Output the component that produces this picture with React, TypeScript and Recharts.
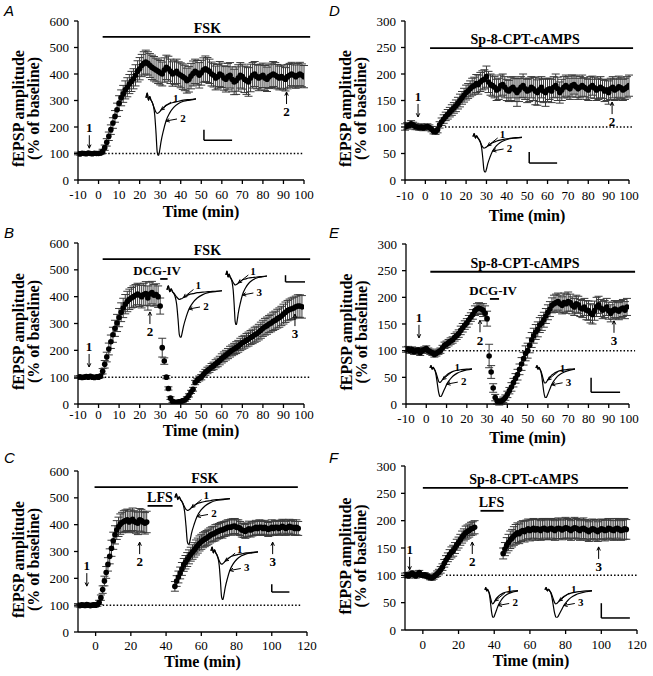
import React from 'react';
import {
  ComposedChart,
  Scatter,
  ErrorBar,
  XAxis,
  YAxis,
  ReferenceLine,
  ReferenceDot,
  LineChart,
  Line,
} from 'recharts';

const SERIF = '"Liberation Serif", "Times New Roman", serif';
const SANS = '"Liberation Sans", Arial, sans-serif';

// fEPSP amplitude (% of baseline), one point per minute, and its s.e.m.
// A: FSK
const A_START = -10;
const A_AMP = [
  100, 98, 101, 100, 99, 102, 100, 99, 101, 100, 100,
  102, 108, 122, 142, 165, 190, 215, 240, 265, 290,
  310, 325, 340, 350, 362, 372, 382, 395, 410, 420,
  432, 440, 445, 440, 432, 425, 420, 415, 410, 405,
  400, 415, 425, 420, 410, 400, 405, 410, 400, 395,
  390, 385, 375, 380, 392, 402, 410, 405, 395, 405,
  415, 420, 415, 410, 400, 395, 385, 390, 400, 395,
  385, 380, 390, 395, 380, 370, 375, 385, 395, 390,
  380, 375, 370, 385, 395, 400, 390, 385, 390, 395,
  385, 380, 390, 395, 400, 395, 390, 385, 390, 385,
  380, 390, 395, 400, 395, 390, 395, 400, 395, 390,
];
const A_SEM = [
  5, 4, 5, 4, 4, 5, 4, 5, 4, 5, 5,
  6, 8, 10, 14, 16, 18, 20, 22, 25, 28,
  30, 32, 34, 36, 36, 38, 38, 40, 40, 42,
  42, 44, 45, 44, 45, 46, 46, 45, 46, 46,
  45, 46, 46, 47, 46, 46, 45, 46, 46, 47,
  48, 48, 47, 48, 48, 47, 46, 46, 48, 47,
  46, 48, 47, 46, 45, 44, 45, 46, 47, 46,
  46, 48, 50, 48, 47, 48, 52, 50, 48, 47,
  50, 52, 54, 52, 48, 47, 46, 48, 47, 46,
  47, 46, 45, 46, 47, 48, 46, 45, 44, 45,
  44, 46, 45, 44, 43, 44, 45, 44, 43, 42,
];

// B: FSK + DCG-IV
const B_START = -10;
const B_AMP = [
  100, 101, 99, 100, 102, 100, 103, 100, 99, 101, 100,
  104, 122, 148, 175, 205, 232, 258, 282, 302, 322,
  342, 358, 372, 382, 390, 396, 400, 405, 410, 405,
  400, 408, 412, 395, 410, 415, 405, 408, 400, 365,
  210, 160, 100, 58, 22, 10, 6, 6, 8, 9,
  12, 15, 22, 32, 45, 55, 80, 88, 95, 100,
  110, 118, 125, 130, 138, 142, 150, 155, 162, 170,
  176, 182, 188, 195, 200, 205, 210, 215, 222, 228,
  232, 238, 242, 248, 252, 258, 262, 268, 275, 282,
  288, 292, 298, 302, 308, 312, 318, 322, 328, 335,
  342, 348, 352, 355, 358, 362, 365, 365, 362,
];
const B_SEM = [
  5, 5, 4, 5, 5, 4, 5, 5, 4, 5, 5,
  6, 10, 14, 18, 22, 25, 28, 30, 32, 34,
  35, 36, 36, 38, 38, 38, 40, 40, 40, 42,
  42, 42, 44, 45, 44, 42, 40, 40, 40, 30,
  35, 12, 6, 6, 5, 4, 4, 4, 4, 4,
  4, 5, 5, 6, 6, 7, 8, 8, 9, 10,
  10, 11, 12, 12, 13, 14, 15, 16, 16, 17,
  18, 18, 19, 20, 20, 21, 22, 22, 23, 24,
  24, 25, 26, 26, 27, 28, 28, 29, 30, 30,
  31, 32, 32, 33, 34, 34, 35, 36, 36, 37,
  38, 38, 39, 40, 40, 40, 42, 42, 42,
];

// C: FSK + LFS (two runs, gap during LFS)
const C1_START = -10;
const C1_AMP = [
  100, 98, 101, 100, 99, 102, 100, 98, 100, 101,
  100, 102, 110, 128, 158, 190, 222, 252, 282, 312,
  340, 362, 380, 392, 402, 408, 412, 415, 418, 410,
  415, 420, 412, 408, 405, 418, 415, 410, 405, 410,
];
const C1_SEM = [
  6, 5, 5, 6, 5, 5, 6, 5, 5, 5,
  5, 6, 8, 10, 14, 18, 22, 25, 28, 30,
  32, 34, 35, 36, 38, 38, 40, 40, 40, 40,
  40, 42, 40, 40, 42, 42, 42, 40, 40, 40,
];
const C2_START = 45;
const C2_AMP = [
  170, 190, 205, 220, 235, 250, 260, 270, 280, 290,
  298, 306, 315, 322, 330, 336, 342, 346, 350, 355,
  360, 364, 366, 370, 374, 376, 380, 380, 384, 386,
  390, 390, 391, 394, 395, 390, 390, 386, 380, 378,
  375, 380, 385, 380, 384, 386, 390, 386, 390, 390,
  386, 390, 386, 382, 385, 390, 386, 390, 390, 386,
  390, 394, 390, 386, 390, 394, 390, 390, 386, 390,
  386,
];
const C2_SEM = [
  18, 20, 22, 22, 24, 24, 25, 26, 26, 26,
  27, 27, 28, 28, 28, 28, 28, 28, 28, 28,
  28, 28, 28, 30, 28, 28, 28, 30, 28, 28,
  28, 28, 30, 28, 28, 28, 28, 26, 26, 26,
  26, 26, 28, 26, 26, 26, 26, 26, 28, 26,
  26, 26, 26, 26, 26, 28, 26, 26, 26, 26,
  26, 26, 28, 26, 26, 26, 26, 28, 26, 28,
  26,
];

// D: Sp-8-CPT-cAMPS
const D_START = -10;
const D_AMP = [
  100, 102, 103, 106, 104, 101, 100, 99, 100, 98, 100,
  101, 99, 96, 92, 91, 95, 104, 110, 115, 120,
  124, 128, 132, 136, 140, 145, 150, 155, 160, 165,
  168, 172, 176, 178, 182, 180, 185, 188, 190, 195,
  185, 180, 178, 175, 170, 172, 178, 180, 175, 170,
  168, 172, 175, 170, 165, 170, 175, 178, 172, 168,
  170, 175, 172, 168, 165, 170, 175, 168, 165, 170,
  172, 168, 175, 178, 172, 165, 170, 175, 178, 175,
  172, 178, 180, 176, 172, 175, 178, 175, 172, 170,
  175, 178, 174, 170, 172, 175, 172, 168, 170, 165,
  172, 175, 170, 172, 176, 174, 170, 172, 175, 178,
];
const D_SEM = [
  6, 6, 5, 6, 5, 6, 5, 5, 6, 5, 5,
  5, 5, 5, 5, 5, 6, 6, 7, 8, 8,
  9, 9, 10, 10, 11, 11, 12, 12, 13, 14,
  14, 15, 16, 16, 17, 18, 18, 18, 18, 20,
  20, 20, 20, 20, 20, 20, 20, 20, 20, 20,
  20, 22, 20, 22, 26, 22, 20, 22, 20, 22,
  22, 20, 22, 26, 24, 22, 20, 22, 26, 22,
  20, 22, 20, 22, 22, 20, 20, 20, 20, 20,
  20, 20, 18, 20, 20, 20, 20, 18, 20, 20,
  20, 18, 20, 20, 20, 20, 18, 20, 20, 22,
  20, 20, 20, 20, 20, 20, 20, 20, 20, 20,
];

// E: Sp-8-CPT-cAMPS + DCG-IV
const E_START = -10;
const E_AMP = [
  102, 103, 100, 102, 98, 100, 101, 96, 100, 102, 104,
  100, 98, 96, 93, 95, 98, 100, 105, 110, 112,
  115, 118, 120, 125, 128, 132, 138, 143, 148, 152,
  158, 163, 168, 175, 178, 180, 178, 176, 170, 160,
  90, 60, 30, 12, 5, 3, 5, 8, 12, 18,
  25, 32, 40, 48, 55, 65, 75, 85, 95, 100,
  110, 120, 128, 135, 140, 148, 152, 158, 165, 172,
  178, 185, 188, 190, 192, 188, 185, 190, 188, 192,
  190, 185, 182, 188, 186, 180, 178, 182, 176, 175,
  170, 168, 175, 182, 186, 180, 176, 178, 182, 175,
  170, 175, 178, 176, 174, 178, 180, 176, 182,
];
const E_SEM = [
  5, 5, 5, 5, 5, 5, 5, 5, 5, 5, 5,
  5, 5, 5, 5, 5, 5, 5, 5, 6, 6,
  6, 6, 6, 7, 7, 7, 8, 8, 8, 8,
  8, 8, 9, 9, 10, 10, 10, 12, 14, 14,
  22, 12, 8, 6, 5, 5, 5, 5, 5, 6,
  6, 8, 8, 9, 10, 10, 12, 12, 14, 14,
  14, 14, 14, 14, 14, 14, 14, 14, 14, 14,
  14, 14, 16, 16, 16, 16, 16, 18, 18, 18,
  16, 16, 16, 16, 16, 16, 16, 16, 18, 18,
  18, 18, 18, 18, 16, 16, 16, 16, 16, 16,
  16, 16, 16, 16, 16, 16, 16, 16, 16,
];

// F: Sp-8-CPT-cAMPS + LFS
const F1_START = -10;
const F1_AMP = [
  100, 101, 99, 102, 104, 101, 99, 102, 105, 101,
  100, 101, 99, 98, 96, 95, 97, 100, 103, 106,
  110, 115, 122, 128, 133, 138, 142, 145, 150, 156,
  160, 165, 170, 174, 178, 180, 182, 185, 186, 188,
];
const F1_SEM = [
  4, 4, 4, 4, 4, 4, 4, 4, 4, 4,
  4, 4, 4, 4, 4, 4, 4, 4, 5, 5,
  6, 6, 7, 8, 8, 9, 10, 10, 10, 10,
  10, 10, 11, 11, 12, 12, 12, 12, 12, 12,
];
const F2_START = 45;
const F2_AMP = [
  140, 148, 155, 160, 165, 168, 172, 175, 178, 176,
  180, 182, 180, 183, 185, 182, 184, 186, 183, 185,
  184, 182, 185, 186, 184, 183, 185, 186, 184, 182,
  185, 186, 185, 183, 185, 187, 186, 184, 182, 185,
  187, 186, 184, 182, 185, 186, 184, 182, 180, 183,
  185, 184, 182, 180, 183, 185, 184, 182, 183, 186,
  185, 183, 182, 185, 186, 184, 182, 183, 185, 184,
];
const F2_SEM = [
  10, 12, 14, 15, 16, 16, 17, 18, 18, 18,
  18, 18, 19, 18, 18, 19, 18, 18, 19, 18,
  18, 18, 19, 18, 18, 18, 19, 18, 18, 18,
  18, 19, 18, 18, 18, 19, 18, 18, 18, 18,
  19, 18, 18, 18, 18, 19, 18, 18, 18, 18,
  18, 18, 19, 18, 18, 18, 18, 19, 18, 18,
  18, 18, 18, 19, 18, 18, 18, 18, 19, 18,
];

// example fEPSP traces shown as insets (arbitrary time, % of largest response)
const TRACE_T = [0, 1, 2, 3, 4, 5, 6, 7, 8, 9, 10, 11, 12, 14, 16, 19, 22, 26, 30, 35, 40];
const TRACE_DEEP = [0, 8, -4, 2, -4, -8, -15, -30, -60, -94, -100, -90, -76, -56, -40, -26, -17, -10, -6, -4, -2];
const TRACE_BROAD = [0, 8, -4, 2, -4, -12, -30, -55, -80, -95, -100, -96, -88, -72, -56, -40, -28, -18, -12, -7, -4];
const TRACE_20 = [0, 8, -4, 2, -4, -7, -11, -15, -18, -20, -19, -18, -16, -13, -10, -8, -6, -5, -4, -3, -2];
const TRACE_27 = [0, 8, -4, 2, -4, -8, -14, -20, -25, -27, -26, -24, -21, -17, -13, -10, -8, -6, -4, -3, -2];
const TRACE_32 = [0, 8, -4, 2, -4, -9, -16, -24, -29, -32, -31, -29, -26, -21, -17, -13, -10, -7, -5, -3, -2];
const TRACE_50 = [0, 8, -4, 2, -4, -10, -20, -32, -44, -50, -49, -45, -40, -32, -24, -17, -12, -8, -6, -4, -3];

const rows = (start: number, amp: number[], sem: number[]) =>
  amp.map((v, i) => ({ t: start + i, v, e: sem[i] ?? 0 }));

type Mark = { t: number; v: number; dx: number; dy: number; text: string };
type DrugBar = { from: number; to: number; v: number; text: string; at: number; size: number };
type Seg = { start: number; amp: number[]; sem: number[] };

const arrow = (dx: number, dy: number, text: string, size: number) => (p: any) => {
  const cx = p.cx;
  const cy = p.cy;
  const len = Math.hypot(dx, dy);
  const ux = dx / len;
  const uy = dy / len;
  const h = 4;
  const c = Math.cos(0.45);
  const s = Math.sin(0.45);
  const h1x = cx + h * (ux * c - uy * s);
  const h1y = cy + h * (ux * s + uy * c);
  const h2x = cx + h * (ux * c + uy * s);
  const h2y = cy + h * (-ux * s + uy * c);
  const lx = cx + dx + ux * (size * 0.55);
  const ly = cy + dy + uy * (size * 0.6);
  return (
    <g>
      <line x1={cx + dx} y1={cy + dy} x2={cx} y2={cy} stroke="#000" strokeWidth={1} />
      <polyline points={`${h1x},${h1y} ${cx},${cy} ${h2x},${h2y}`} fill="none" stroke="#000" strokeWidth={1} />
      <text x={lx} y={ly} textAnchor="middle" dominantBaseline="central" fontFamily={SERIF} fontWeight="bold" fontSize={size} fill="#000">
        {text}
      </text>
    </g>
  );
};

const barLabel = (text: string, size: number) => (p: any) => (
  <text x={p.cx} y={p.cy - 4} textAnchor="middle" fontFamily={SERIF} fontWeight="bold" fontSize={size} fill="#000">
    {text}
  </text>
);

const dot = (p: any) => <circle cx={p.cx} cy={p.cy} r={2.8} fill="#000" />;

const xTick = (p: any) => (
  <text x={p.x} y={p.y} dy="0.71em" textAnchor="middle" fontFamily={SERIF} fontSize={13} fill="#000">
    {p.payload.value}
  </text>
);

const yTick = (p: any) => (
  <text x={p.x} y={p.y} dy="0.35em" textAnchor="end" fontFamily={SERIF} fontSize={13} fill="#000">
    {p.payload.value}
  </text>
);

const yTitle = (p: any) => {
  const vb = p.viewBox;
  const right = vb.x + vb.width;
  const cy = vb.y + vb.height / 2 + 8;
  const style = { fontFamily: SERIF, fontWeight: 'bold' as const, fontSize: 16, fill: '#000' };
  return (
    <g>
      <text x={right - 60} y={cy} transform={`rotate(-90 ${right - 60} ${cy})`} textAnchor="middle" dominantBaseline="central" {...style}>
        fEPSP amplitude
      </text>
      <text x={right - 45} y={cy} transform={`rotate(-90 ${right - 45} ${cy})`} textAnchor="middle" dominantBaseline="central" {...style}>
        (% of baseline)
      </text>
    </g>
  );
};

const xTitle = (dy: number) => (p: any) => {
  const vb = p.viewBox;
  return (
    <text x={vb.x + vb.width / 2 + 10} y={vb.y + dy} textAnchor="middle" dominantBaseline="central" fontFamily={SERIF} fontWeight="bold" fontSize={16} fill="#000">
      Time (min)
    </text>
  );
};

type PanelProps = {
  letter: string;
  left: number;
  top: number;
  width: number;
  height: number;
  margin: { top: number; right: number; bottom: number; left: number };
  xDomain: [number, number];
  xTicks: number[];
  yDomain: [number, number];
  yTicks: number[];
  segs: Seg[];
  base: [number, number];
  bars: DrugBar[];
  marks: Mark[];
  scale: [number, number, number, number];
  titleDy: number;
  tickGap: number;
};

function Panel(props: PanelProps) {
  const { scale } = props;
  return (
    <div style={{ position: 'absolute', left: props.left, top: props.top }}>
      <ComposedChart width={props.width} height={props.height} margin={props.margin}>
        <XAxis
          type="number"
          dataKey="t"
          domain={props.xDomain}
          ticks={props.xTicks}
          interval={0}
          allowDataOverflow
          height={20}
          stroke="#000"
          strokeWidth={1.3}
          tickSize={4}
          tickMargin={props.tickGap}
          tick={xTick}
          label={xTitle(props.titleDy)}
        />
        <YAxis
          type="number"
          dataKey="v"
          domain={props.yDomain}
          ticks={props.yTicks}
          interval={0}
          allowDataOverflow
          width={40}
          stroke="#000"
          strokeWidth={1.3}
          tickSize={4}
          tickMargin={5}
          tick={yTick}
          label={yTitle}
        />
        <ReferenceLine
          segment={[{ x: props.base[0], y: 100 }, { x: props.base[1], y: 100 }]}
          stroke="#000"
          strokeWidth={1.5}
          strokeDasharray="1.5 2"
          ifOverflow="visible"
        />
        {props.bars.map((b, i) => (
          <ReferenceLine
            key={`bar-${i}`}
            segment={[{ x: b.from, y: b.v }, { x: b.to, y: b.v }]}
            stroke="#000"
            strokeWidth={1.8}
            ifOverflow="visible"
          />
        ))}
        {props.bars.map((b, i) => (
          <ReferenceDot key={`bl-${i}`} x={b.at} y={b.v} r={0} ifOverflow="visible" shape={barLabel(b.text, b.size)} />
        ))}
        <ReferenceLine
          segment={[{ x: scale[0], y: scale[1] }, { x: scale[0], y: scale[2] }]}
          stroke="#000"
          strokeWidth={1.5}
          ifOverflow="visible"
        />
        <ReferenceLine
          segment={[{ x: scale[0], y: scale[2] }, { x: scale[3], y: scale[2] }]}
          stroke="#000"
          strokeWidth={1.5}
          ifOverflow="visible"
        />
        {props.segs.map((s, i) => (
          <Scatter
            key={`seg-${i}`}
            data={rows(s.start, s.amp, s.sem)}
            dataKey="v"
            shape={dot}
            isAnimationActive={false}
          >
            <ErrorBar dataKey="e" direction="y" width={4} stroke="#3a3a3a" strokeWidth={1} />
          </Scatter>
        ))}
        {props.marks.map((m, i) => (
          <ReferenceDot key={`m-${i}`} x={m.t} y={m.v} r={0} ifOverflow="visible" shape={arrow(m.dx, m.dy, m.text, 13)} />
        ))}
      </ComposedChart>
      <span
        style={{
          position: 'absolute',
          left: 4,
          top: 3,
          fontFamily: SANS,
          fontStyle: 'italic',
          fontSize: 15,
          lineHeight: '15px',
        }}
      >
        {props.letter}
      </span>
    </div>
  );
}

type InsetProps = { left: number; width: number; y0: number; yMin: number; a: number[]; b: number[]; marks: Mark[] };

function Inset(props: InsetProps) {
  const k = (props.yMin - props.y0) / 100;
  const data = TRACE_T.map((t, i) => ({ t, a: props.a[i], b: props.b[i] }));
  const m = { top: 12, right: 22, bottom: 4, left: 4 };
  return (
    <div style={{ position: 'absolute', left: props.left - m.left, top: props.y0 - 10 * k - m.top }}>
      <LineChart width={props.width + m.left + m.right} height={110 * k + m.top + m.bottom} data={data} margin={m}>
        <XAxis type="number" dataKey="t" domain={[0, 40]} hide />
        <YAxis type="number" domain={[-100, 10]} hide allowDataOverflow />
        <Line dataKey="a" type="monotone" stroke="#000" strokeWidth={1.2} dot={false} isAnimationActive={false} />
        <Line dataKey="b" type="monotone" stroke="#000" strokeWidth={1.2} dot={false} isAnimationActive={false} />
        {props.marks.map((mk, i) => (
          <ReferenceDot key={i} x={mk.t} y={mk.v} r={0} ifOverflow="visible" shape={arrow(mk.dx, mk.dy, mk.text, 11)} />
        ))}
      </LineChart>
    </div>
  );
}

const traceMarks = (second: string, v1: number, v2: number): Mark[] => [
  { t: 12, v: v1, dx: 10, dy: -8, text: '1' },
  { t: 16, v: v2, dx: 11, dy: -2, text: second },
];

const TICKS_100 = [-10, 0, 10, 20, 30, 40, 50, 60, 70, 80, 90, 100];
const TICKS_120 = [0, 20, 40, 60, 80, 100, 120];
const Y600 = [0, 100, 200, 300, 400, 500, 600];
const Y300 = [0, 50, 100, 150, 200, 250, 300];

export default function App() {
  return (
    <div style={{ position: 'absolute', left: 0, top: 0, width: 653, height: 676, background: '#fff', overflow: 'hidden', fontFamily: SERIF }}>
      <Panel
        letter="A"
        left={0}
        top={0}
        width={325}
        height={225}
        margin={{ top: 21, right: 21, bottom: 25, left: 38 }}
        xDomain={[-10, 100]}
        xTicks={TICKS_100}
        yDomain={[0, 600]}
        yTicks={Y600}
        segs={[{ start: A_START, amp: A_AMP, sem: A_SEM }]}
        base={[3, 100]}
        bars={[{ from: 2, to: 103, v: 540, text: 'FSK', at: 53, size: 14 }]}
        marks={[
          { t: -4.5, v: 120, dx: 0, dy: -13, text: '1' },
          { t: 91.5, v: 332, dx: 0, dy: 12, text: '2' },
        ]}
        scale={[51.3, 190, 150, 65]}
        titleDy={31}
        tickGap={6}
      />
      <Panel
        letter="B"
        left={0}
        top={222}
        width={325}
        height={225}
        margin={{ top: 21, right: 21, bottom: 23, left: 38 }}
        xDomain={[-10, 100]}
        xTicks={TICKS_100}
        yDomain={[0, 600]}
        yTicks={Y600}
        segs={[{ start: B_START, amp: B_AMP, sem: B_SEM }]}
        base={[3, 103]}
        bars={[
          { from: 2, to: 103, v: 540, text: 'FSK', at: 53, size: 14 },
          { from: 30, to: 33.6, v: 466, text: 'DCG-IV', at: 28.5, size: 13 },
        ]}
        marks={[
          { t: -4.6, v: 138, dx: 0, dy: -13, text: '1' },
          { t: 25, v: 343, dx: 0, dy: 12, text: '2' },
          { t: 95.6, v: 335, dx: 0, dy: 12, text: '3' },
        ]}
        scale={[91, 480, 455, 100.5]}
        titleDy={26}
        tickGap={2}
      />
      <Panel
        letter="C"
        left={0}
        top={447}
        width={325}
        height={229}
        margin={{ top: 24, right: 18, bottom: 24, left: 38 }}
        xDomain={[-10, 120]}
        xTicks={TICKS_120}
        yDomain={[0, 600]}
        yTicks={Y600}
        segs={[
          { start: C1_START, amp: C1_AMP, sem: C1_SEM },
          { start: C2_START, amp: C2_AMP, sem: C2_SEM },
        ]}
        base={[4, 117]}
        bars={[
          { from: -0.6, to: 114.8, v: 540, text: 'FSK', at: 62, size: 14 },
          { from: 29.5, to: 43.7, v: 470, text: 'LFS', at: 36.5, size: 14 },
        ]}
        marks={[
          { t: -5, v: 171, dx: 0, dy: -13, text: '1' },
          { t: 25, v: 335, dx: 0, dy: 12, text: '2' },
          { t: 100.5, v: 335, dx: 0, dy: 12, text: '3' },
        ]}
        scale={[100, 178, 149, 110]}
        titleDy={29}
        tickGap={5}
      />
      <Panel
        letter="D"
        left={325}
        top={0}
        width={328}
        height={225}
        margin={{ top: 21, right: 24, bottom: 25, left: 40 }}
        xDomain={[-10, 100]}
        xTicks={TICKS_100}
        yDomain={[0, 300]}
        yTicks={Y300}
        segs={[{ start: D_START, amp: D_AMP, sem: D_SEM }]}
        base={[9.6, 102]}
        bars={[{ from: 2.3, to: 102, v: 249, text: 'Sp-8-CPT-cAMPS', at: 49, size: 14 }]}
        marks={[
          { t: -3.6, v: 119, dx: 0, dy: -13, text: '1' },
          { t: 91.7, v: 147, dx: 0, dy: 12, text: '2' },
        ]}
        scale={[51, 53, 32, 64.7]}
        titleDy={35}
        tickGap={7}
      />
      <Panel
        letter="E"
        left={325}
        top={222}
        width={328}
        height={225}
        margin={{ top: 22, right: 24, bottom: 23, left: 41 }}
        xDomain={[-10, 100]}
        xTicks={TICKS_100}
        yDomain={[0, 300]}
        yTicks={Y300}
        segs={[{ start: E_START, amp: E_AMP, sem: E_SEM }]}
        base={[11, 103]}
        bars={[
          { from: 2, to: 103, v: 248, text: 'Sp-8-CPT-cAMPS', at: 48.7, size: 14 },
          { from: 31.4, to: 35.9, v: 197, text: 'DCG-IV', at: 33, size: 13 },
        ]}
        marks={[
          { t: -3.6, v: 124, dx: 0, dy: -13, text: '1' },
          { t: 26.5, v: 157, dx: 0, dy: 12, text: '2' },
          { t: 92.6, v: 156, dx: 0, dy: 12, text: '3' },
        ]}
        scale={[81.3, 49, 22, 95.6]}
        titleDy={33}
        tickGap={6}
      />
      <Panel
        letter="F"
        left={325}
        top={447}
        width={328}
        height={229}
        margin={{ top: 19, right: 16, bottom: 26, left: 40 }}
        xDomain={[-10, 120]}
        xTicks={TICKS_120}
        yDomain={[0, 300]}
        yTicks={Y300}
        segs={[
          { start: F1_START, amp: F1_AMP, sem: F1_SEM },
          { start: F2_START, amp: F2_AMP, sem: F2_SEM },
        ]}
        base={[13, 120]}
        bars={[
          { from: 0, to: 115, v: 260, text: 'Sp-8-CPT-cAMPS', at: 56.6, size: 14 },
          { from: 32.3, to: 45.3, v: 218, text: 'LFS', at: 38.5, size: 14 },
        ]}
        marks={[
          { t: -7.4, v: 110, dx: 0, dy: -13, text: '1' },
          { t: 27.7, v: 161, dx: 0, dy: 12, text: '2' },
          { t: 98.5, v: 152, dx: 0, dy: 12, text: '3' },
        ]}
        scale={[100, 49, 22, 116]}
        titleDy={30}
        tickGap={6}
      />

      <Inset left={146} width={50} y0={98} yMin={156} a={TRACE_27} b={TRACE_DEEP} marks={traceMarks('2', -21, -40)} />
      <Inset left={167} width={55} y0={290} yMin={338} a={TRACE_20} b={TRACE_DEEP} marks={traceMarks('2', -16, -40)} />
      <Inset left={226} width={41} y0={275} yMin={325} a={TRACE_20} b={TRACE_DEEP} marks={traceMarks('3', -16, -40)} />
      <Inset left={175} width={55} y0={498} yMin={545} a={TRACE_27} b={TRACE_DEEP} marks={traceMarks('2', -21, -40)} />
      <Inset left={211} width={47} y0={551} yMin={600} a={TRACE_27} b={TRACE_DEEP} marks={traceMarks('3', -21, -40)} />
      <Inset left={473} width={49} y0={137} yMin={173} a={TRACE_32} b={TRACE_DEEP} marks={traceMarks('2', -26, -40)} />
      <Inset left={430} width={42} y0={368} yMin={397} a={TRACE_50} b={TRACE_BROAD} marks={traceMarks('2', -40, -56)} />
      <Inset left={536} width={39} y0={368} yMin={398} a={TRACE_50} b={TRACE_BROAD} marks={traceMarks('3', -40, -56)} />
      <Inset left={485} width={33} y0={590} yMin={618} a={TRACE_50} b={TRACE_BROAD} marks={traceMarks('2', -40, -56)} />
      <Inset left={545} width={47} y0={590} yMin={618} a={TRACE_50} b={TRACE_BROAD} marks={traceMarks('3', -40, -56)} />
    </div>
  );
}
